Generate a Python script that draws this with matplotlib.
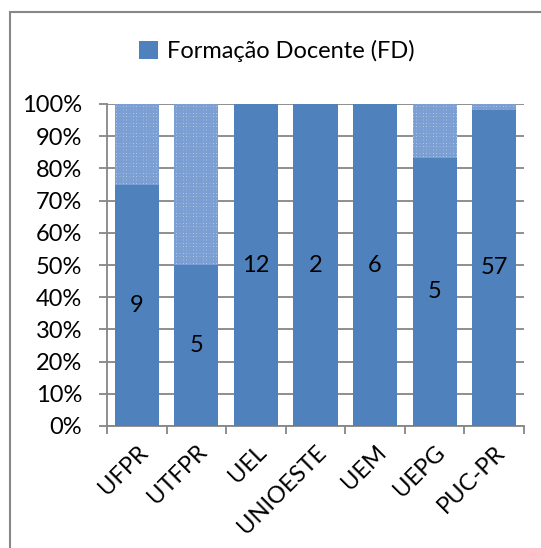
import matplotlib
matplotlib.use("Agg")
import matplotlib.pyplot as plt
import numpy as np
from matplotlib.patches import Rectangle, Patch

plt.rcParams['font.family'] = ['Lato', 'DejaVu Sans']
plt.rcParams['hatch.linewidth'] = 1.8

categories = ["UFPR", "UTFPR", "UEL", "UNIOESTE", "UEM", "UEPG", "PUC-PR"]
fd_counts = [9, 5, 12, 2, 6, 5, 57]
other_counts = [3, 5, 0, 0, 0, 1, 1]
yticks = [0, 10, 20, 30, 40, 50, 60, 70, 80, 90, 100]
legend_label = "Formação Docente (FD)"

fd = np.array(fd_counts, float)
ot = np.array(other_counts, float)
tot = fd + ot
fd_pct = fd / tot * 100
ot_pct = ot / tot * 100

W, H = 541, 548
fig = plt.figure(figsize=(W / 100, H / 100), dpi=100)
ax = fig.add_axes([107 / W, 1 - 426 / H, (524 - 107) / W, (426 - 104) / H])

FS = 17
x = np.arange(len(categories))
blue = '#4f81bd'
ax.bar(x, fd_pct, width=0.74, color=blue, zorder=3)
ax.bar(x, ot_pct, bottom=fd_pct, width=0.74, color='#e6eef8', hatch='+++++',
       edgecolor='#7b9fd2', linewidth=0, zorder=3)

for xi, p, c in zip(x, fd_pct, fd_counts):
    ax.text(xi, p / 2, str(c), ha='center', va='center', fontsize=FS, color='black', zorder=4)

ax.set_xlim(-0.5, len(categories) - 0.5)
ax.set_ylim(0, 100)
ax.set_yticks(yticks)
ax.set_yticklabels([f"{v}%" for v in yticks], fontsize=FS)
ax.set_xticks(np.arange(len(categories) + 1) - 0.5, minor=False)
ax.set_xticklabels([])
ax.set_xticks(x, minor=True)
ax.set_xticklabels(categories, minor=True, rotation=45, ha='right', rotation_mode='anchor', fontsize=FS)
ax.tick_params(axis='x', which='minor', length=0, pad=11)
ax.tick_params(axis='x', which='major', length=6, color='#868686', width=1.3, direction='out')
ax.tick_params(axis='y', length=6, color='#868686', width=1.3, direction='out', pad=12)
ax.yaxis.grid(True, color='#868686', linewidth=1.3, zorder=0)
ax.set_axisbelow(True)
for s in ['top', 'right']:
    ax.spines[s].set_visible(False)
for s in ['left', 'bottom']:
    ax.spines[s].set_color('#868686')
    ax.spines[s].set_linewidth(1.3)

handle = Patch(facecolor=blue, edgecolor='none')
fig.legend([handle], [legend_label], loc='center', bbox_to_anchor=(277 / W, 1 - 51 / H),
           frameon=False, fontsize=FS, handlelength=0.8, handleheight=0.8, handletextpad=0.4)

fig.patches.append(Rectangle((10 / W, -0.1), 1.2, (H - 12) / H + 0.1, transform=fig.transFigure,
                             fill=False, edgecolor='#888888', linewidth=1.5))

fig.savefig("out.png", dpi=100)
